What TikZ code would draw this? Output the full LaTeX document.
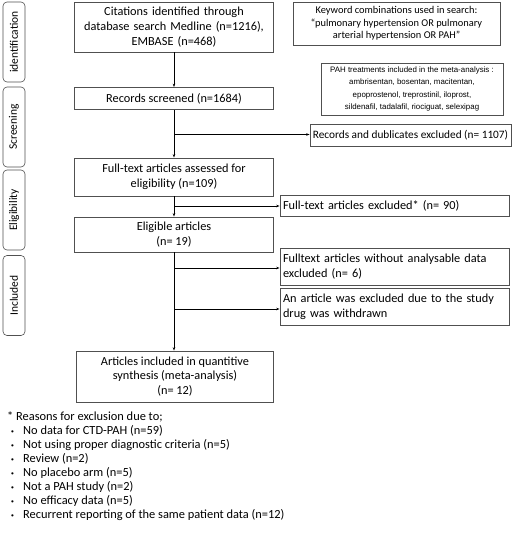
\documentclass[tikz,border=0pt]{standalone}
\usepackage{fontspec}
\setmainfont{Carlito}
\newfontfamily\arialf{Liberation Sans}
\usetikzlibrary{arrows.meta}
\definecolor{boxline}{HTML}{505050}
\tikzset{
  box/.style={draw=boxline, line width=0.8pt, rectangle, inner sep=1pt, align=center, font=\fontsize{12.3}{14.8}\selectfont},
  rbox/.style={draw=boxline, line width=0.8pt, rectangle, inner sep=3pt, align=left, font=\fontsize{12.3}{15}\selectfont},
  side/.style={draw=boxline, line width=0.6pt, rounded corners=4pt, rotate=90, minimum width=80pt, minimum height=22pt, inner sep=0pt, font=\fontsize{11.5}{13}\selectfont},
  arr/.style={-{Stealth[length=3.5pt,width=2.5pt]}, line width=0.6pt},
}
\begin{document}
\begin{tikzpicture}[x=1pt,y=-1pt]
\useasboundingbox (0,0) rectangle (513,540);
% side labels
\node[side] (sid) at (14,42) {identification};
\node[side] (sscr) at (14,127) {Screening};
\node[side] (selig) at (14,210) {Eligibility};
\node[side] (sinc) at (14,295.5) {Included};
% main column
\node[box, minimum width=199pt, minimum height=50pt, text width=197pt] (b1) at (174,27) {Citations identified through\\database search Medline (n=1216),\\EMBASE (n=468)};
\node[box, minimum width=199pt, minimum height=22pt] (b2) at (174,98.5) {Records screened (n=1684)};
\node[box, minimum width=199pt, minimum height=38pt] (b3) at (174,177) {Full-text articles assessed for\\eligibility (n=109)};
\node[box, minimum width=199pt, minimum height=35pt] (b4) at (174,234.5) {Eligible articles\\(n= 19)};
\node[box, minimum width=197pt, minimum height=51pt] (b5) at (175,376.5) {Articles included in quantitive\\synthesis (meta-analysis)\\(n= 12)};
% info boxes
\node[box, minimum width=207pt, minimum height=43pt, font=\fontsize{10.4}{12.6}\selectfont] (kw) at (396.5,23.5) {Keyword combinations used in search:\\``pulmonary hypertension OR pulmonary\\arterial hypertension OR PAH''};
\node[box, minimum width=182pt, minimum height=52pt, font=\arialf\fontsize{7.9}{12.5}\selectfont] (pah) at (412,89) {PAH treatments included in the meta-analysis :\\ambrisentan, bosentan, macitentan,\\epoprostenol, treprostinil, iloprost,\\sildenafil, tadalafil, riociguat, selexipag};
% exclusion boxes
\node[box, minimum width=201pt, minimum height=22pt, font=\fontsize{11.3}{14}\selectfont] (rex) at (410.5,135.5) {Records and dublicates excluded (n= 1107)};
\node[rbox, minimum width=229pt, minimum height=21pt, text width=223pt] (ftex) at (394.5,205.5) {Full-text articles excluded* (n= 90)};
\node[rbox, minimum width=229pt, minimum height=37pt, text width=223pt] (nod) at (394.5,266.5) {Fulltext articles without analysable data\\excluded (n= 6)};
\node[rbox, minimum width=229pt, minimum height=37pt, text width=223pt] (art) at (394.5,306.5) {An article was excluded due to the study\\drug was withdrawn};
% connectors
\draw[arr] (b1) -- (b2);
\draw[arr] (b2) -- (b3);
\draw[arr] (b3) -- (b4);
\draw[arr] (b4) -- (b5.north -| b4.south);
\coordinate (c1) at (174,134.5);
\coordinate (c2) at (174,206);
\coordinate (c3) at (174,268);
\coordinate (c4) at (174,309);
\draw[arr] (c1) -- (rex.west |- c1);
\draw[arr] (c2) -- (ftex.west |- c2);
\draw[arr] (c3) -- (nod.west |- c3);
\draw[arr] (c4) -- (art.west |- c4);
% footnote
\node[anchor=north west, inner sep=0pt, align=left, font=\fontsize{12.4}{14}\selectfont] (fn) at (7,410) {%
\begin{tabular}{@{}p{16pt}@{}l@{}}
\multicolumn{2}{@{}l@{}}{* Reasons for exclusion due to;}\\
\hspace{4pt}{\arialf\fontsize{8}{8}\selectfont •} & No data for CTD-PAH (n=59)\\
\hspace{4pt}{\arialf\fontsize{8}{8}\selectfont •} & Not using proper diagnostic criteria (n=5)\\
\hspace{4pt}{\arialf\fontsize{8}{8}\selectfont •} & Review (n=2)\\
\hspace{4pt}{\arialf\fontsize{8}{8}\selectfont •} & No placebo arm (n=5)\\
\hspace{4pt}{\arialf\fontsize{8}{8}\selectfont •} & Not a PAH study (n=2)\\
\hspace{4pt}{\arialf\fontsize{8}{8}\selectfont •} & No efficacy data (n=5)\\
\hspace{4pt}{\arialf\fontsize{8}{8}\selectfont •} & Recurrent reporting of the same patient data (n=12)
\end{tabular}};
\end{tikzpicture}
\end{document}
